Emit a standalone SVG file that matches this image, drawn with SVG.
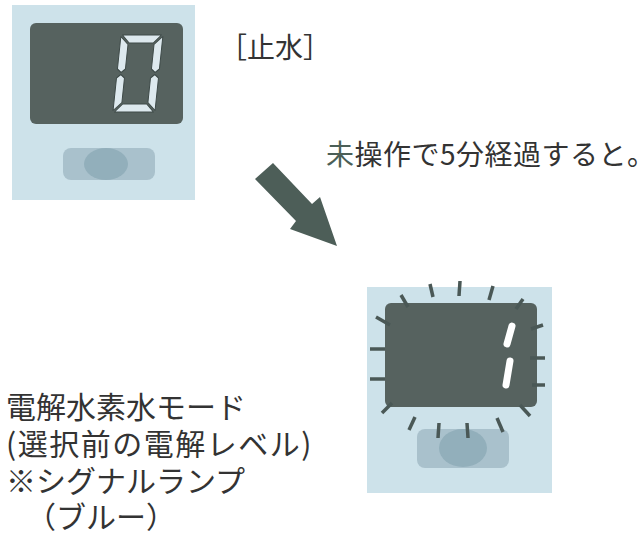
<svg xmlns="http://www.w3.org/2000/svg" width="643" height="534" viewBox="0 0 643 534">
<style>
.panel{fill:#cde2ea}
.disp{fill:#56625f}
.lamp{fill:#a9c1cc}
.lampin{fill:#92afbb}
.seg{fill:#dde9ee;stroke:#3e4a48;stroke-width:1;stroke-linejoin:round}
.ray{stroke:#4a5856;stroke-width:3.5;stroke-linecap:butt}
.one{stroke:#ffffff;stroke-width:7;stroke-linecap:round}
.t{font-family:"Noto Sans CJK JP","Noto Sans",sans-serif;fill:#333}
</style>
<rect width="643" height="534" fill="#ffffff"/>
<g id="device-top">
<rect class="panel" x="12" y="5" width="183" height="195"/>
<rect class="disp" x="30" y="23" width="153" height="101" rx="6"/>
<g transform="translate(121,35) skewX(-6)">
<polygon class="seg" points="1.5,0 40.5,0 33,8 9,8"/>
<polygon class="seg" points="1.5,77 40.5,77 33,69 9,69"/>
<polygon class="seg" points="0,1.5 8,9.5 8,34 4,37.5 0,34"/>
<polygon class="seg" points="0,43 4,39.5 8,43 8,67.5 0,75.5"/>
<polygon class="seg" points="42,1.5 34,9.5 34,34 38,37.5 42,34"/>
<polygon class="seg" points="42,43 38,39.5 34,43 34,67.5 42,75.5"/>
</g>
<rect class="lamp" x="63" y="148" width="92" height="32" rx="8"/>
<ellipse class="lampin" cx="106" cy="164" rx="22" ry="16"/>
</g>
<g id="label-stop">
<text class="t" x="219" y="58" font-size="28">［止水］</text>
</g>
<g id="label-wait">
<text class="t" x="326" y="165" font-size="28" letter-spacing="0.5"><tspan fill="#4b5f57">未</tspan>操作で5分経過すると。</text>
</g>
<g id="connectors">
<polygon fill="#4d5e58" points="255,179 296,221 290,229 337,246 320,197 312,204 273,163"/>
</g>
<g id="device-bottom">
<rect class="panel" x="367" y="287" width="185" height="206"/>
<rect class="disp" x="385" y="303" width="152" height="104" rx="6"/>
<line class="one" x1="512" y1="326" x2="507" y2="344"/>
<line class="one" x1="510" y1="361" x2="506" y2="385"/>
<rect class="lamp" x="417" y="429" width="92" height="39" rx="8"/>
<ellipse class="lampin" cx="463" cy="448" rx="24" ry="19"/>
<g>
<line class="ray" x1="430" y1="284" x2="433" y2="297"/>
<line class="ray" x1="460" y1="281" x2="459" y2="296"/>
<line class="ray" x1="493" y1="286" x2="489" y2="300"/>
<line class="ray" x1="523" y1="299" x2="516" y2="309"/>
<line class="ray" x1="531" y1="329" x2="543" y2="325"/>
<line class="ray" x1="530" y1="358" x2="545" y2="358"/>
<line class="ray" x1="532" y1="385" x2="545" y2="385"/>
<line class="ray" x1="520" y1="405" x2="530" y2="416"/>
<line class="ray" x1="497" y1="418" x2="503" y2="432"/>
<line class="ray" x1="467" y1="423" x2="468" y2="438"/>
<line class="ray" x1="439" y1="423" x2="438" y2="438"/>
<line class="ray" x1="415" y1="417" x2="409" y2="430"/>
<line class="ray" x1="392" y1="403" x2="382" y2="413"/>
<line class="ray" x1="370" y1="379" x2="385" y2="379"/>
<line class="ray" x1="370" y1="349" x2="385" y2="349"/>
<line class="ray" x1="376" y1="317" x2="390" y2="325"/>
<line class="ray" x1="401" y1="295" x2="408" y2="307"/>
</g>
</g>
<g id="label-mode">
<text class="t" font-size="30">
<tspan x="6" y="418">電解水素水モード</tspan>
<tspan x="6" y="455" letter-spacing="1.5">(選択前の電解レベル)</tspan>
<tspan x="6" y="492">※シグナルランプ</tspan>
<tspan x="26" y="528">（ブルー）</tspan>
</text>
</g>
</svg>
